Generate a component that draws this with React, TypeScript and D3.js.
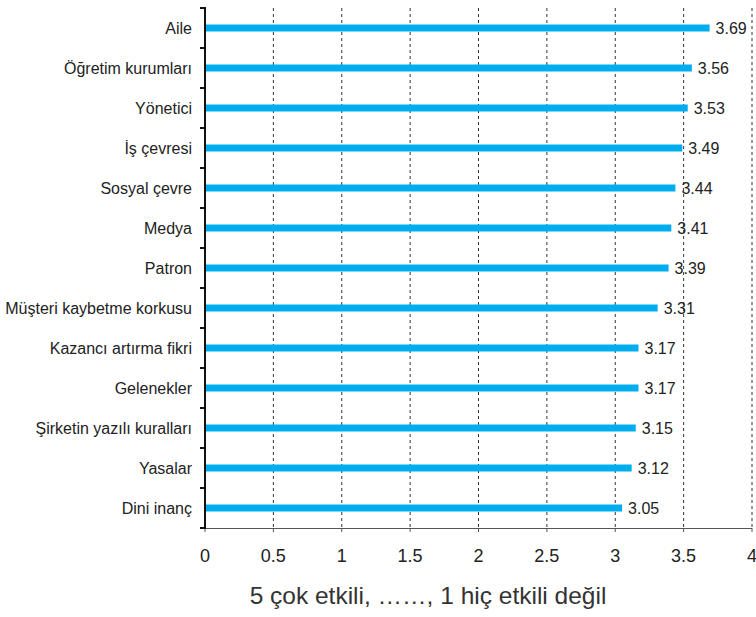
import React from "react";
import * as d3 from "d3";

const categories = [
  "Aile",
  "Öğretim kurumları",
  "Yönetici",
  "İş çevresi",
  "Sosyal çevre",
  "Medya",
  "Patron",
  "Müşteri kaybetme korkusu",
  "Kazancı artırma fikri",
  "Gelenekler",
  "Şirketin yazılı kuralları",
  "Yasalar",
  "Dini inanç",
];
const values = [3.69, 3.56, 3.53, 3.49, 3.44, 3.41, 3.39, 3.31, 3.17, 3.17, 3.15, 3.12, 3.05];
const xTicks = [0, 0.5, 1, 1.5, 2, 2.5, 3, 3.5, 4];
const axisTitle = "5 çok etkili, ……, 1 hiç etkili değil";

const W = 756;
const H = 617;
const font = "'Liberation Sans', Arial, sans-serif";
const narrowFont = "'Liberation Sans Narrow', 'Arial Narrow', 'Liberation Sans', sans-serif";

export default function App() {
  const x = d3.scaleLinear().domain([0, 4]).range([205, 752]);
  const y = d3.scaleBand<string>().domain(categories).range([8, 528]);
  const barH = 7;
  const fmt = d3.format("");

  return (
    <svg
      width={W}
      height={H}
      style={{ position: "absolute", left: 0, top: 0, background: "#fff" }}
    >
      {/* dashed vertical gridlines */}
      {xTicks.slice(1).map((t) => (
        <line
          key={"g" + t}
          x1={x(t)}
          x2={x(t)}
          y1={8}
          y2={528}
          stroke="#333"
          strokeWidth={1}
          strokeDasharray="3,3"
        />
      ))}
      {/* bottom axis */}
      <line x1={x(0)} x2={x(4)} y1={528.5} y2={528.5} stroke="#555" strokeWidth={1} />
      {xTicks.map((t) => (
        <g key={"t" + t}>
          <line x1={x(t)} x2={x(t)} y1={528} y2={532} stroke="#555" strokeWidth={1} />
          <text
            x={x(t)}
            y={562}
            textAnchor="middle"
            fontFamily={narrowFont}
            fontSize={18}
            fill="#222"
          >
            {fmt(t)}
          </text>
        </g>
      ))}
      {/* bars and value labels */}
      {categories.map((c, i) => {
        const cy = (y(c) as number) + y.bandwidth() / 2;
        return (
          <g key={c}>
            <rect
              x={x(0)}
              y={cy - barH / 2}
              width={x(values[i]) - x(0)}
              height={barH}
              fill="#00AEEF"
            />
            <text
              x={x(values[i]) + 6}
              y={cy}
              dy="0.35em"
              fontFamily={font}
              fontSize={16}
              fill="#222"
            >
              {values[i].toFixed(2)}
            </text>
            <text
              x={192}
              y={cy}
              dy="0.35em"
              textAnchor="end"
              fontFamily={font}
              fontSize={16}
              fill="#222"
            >
              {c}
            </text>
          </g>
        );
      })}
      {/* left category axis with boundary ticks */}
      <line x1={205} x2={205} y1={7} y2={529} stroke="#111" strokeWidth={2} />
      {d3.range(categories.length + 1).map((i) => {
        const ty = 8 + i * y.step();
        return <line key={"lt" + i} x1={200} x2={205} y1={ty} y2={ty} stroke="#111" strokeWidth={2} />;
      })}
      {/* axis title */}
      <text
        x={428}
        y={604}
        textAnchor="middle"
        fontFamily={font}
        fontSize={24.5}
        fill="#333"
      >
        {axisTitle}
      </text>
    </svg>
  );
}
